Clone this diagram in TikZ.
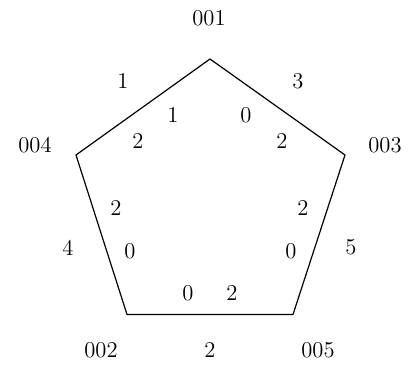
\documentclass[tikz,border=0pt]{standalone}
\begin{document}
\begin{tikzpicture}[x=0.5pt,y=-0.5pt,
  lbl/.style={inner sep=0pt,font=\fontsize{11.3}{13}\selectfont},
  edge/.style={draw=black,line width=0.6pt,line join=miter}]
\useasboundingbox (0,0) rectangle (418,368);
% vertices
\coordinate (v1) at (210,59);
\coordinate (v3) at (345,155);
\coordinate (v5) at (293,314.5);
\coordinate (v2) at (127,314.5);
\coordinate (v4) at (76,155);
\draw[edge] (v1) -- (v3) -- (v5) -- (v2) -- (v4) -- cycle;
% vertex labels
\node[lbl] (n001) at (209,18) {001};
\node[lbl] (n003) at (385,145) {003};
\node[lbl] (n005) at (318,350) {005};
\node[lbl] (n002) at (101,350) {002};
\node[lbl] (n004) at (35,145) {004};
% edge labels (outside)
\node[lbl] (e14) at (123,81) {1};
\node[lbl] (e13) at (298,81) {3};
\node[lbl] (e35) at (351,247) {5};
\node[lbl] (e25) at (210,350) {2};
\node[lbl] (e24) at (68,248) {4};
% inner labels
\node[lbl] (i1a) at (173,115) {1};
\node[lbl] (i1b) at (246,115) {0};
\node[lbl] (i4a) at (138,141) {2};
\node[lbl] (i3a) at (282,141) {2};
\node[lbl] (i4b) at (116,208) {2};
\node[lbl] (i2a) at (130,251) {0};
\node[lbl] (i3b) at (303,208) {2};
\node[lbl] (i5a) at (291,251) {0};
\node[lbl] (i2b) at (188,293) {0};
\node[lbl] (i5b) at (232,293) {2};
\end{tikzpicture}
\end{document}
